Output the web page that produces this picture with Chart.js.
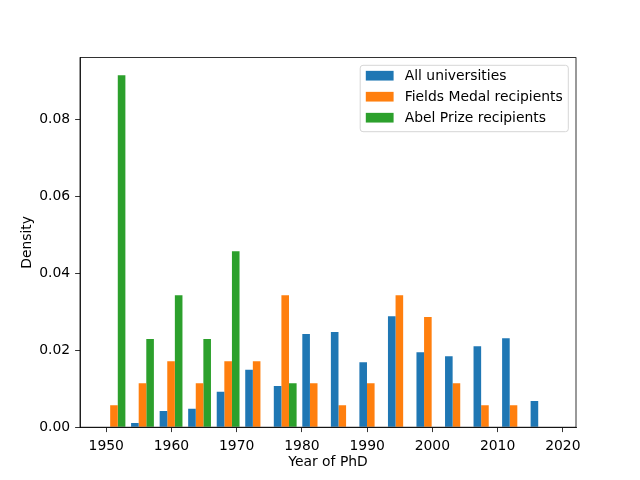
<!DOCTYPE html>
<html>
<head>
<meta charset="utf-8">
<script src="https://cdn.jsdelivr.net/npm/chart.js@4/dist/chart.umd.min.js"></script>
<style>
  html, body { margin: 0; padding: 0; background: #fff; }
  canvas { display: block; }
</style>
</head>
<body>
<canvas id="phd" width="640" height="480"></canvas>
<script>
// bin centres of the 16 histogram bins (years)
const binCenters = [1951.19, 1955.56, 1959.94, 1964.31, 1968.69, 1973.06, 1977.44, 1981.81,
                    1986.19, 1990.56, 1994.94, 1999.31, 2003.69, 2008.06, 2012.44, 2016.81];

const allUniversities = [0, 0.0011, 0.0042, 0.0048, 0.0092, 0.0149, 0.0107, 0.0242,
                         0.0247, 0.0169, 0.0288, 0.0195, 0.0184, 0.0210, 0.0231, 0.0068];
const fieldsMedal = [0.0057, 0.0114, 0.0171, 0.0114, 0.0171, 0.0171, 0.0343, 0.0114,
                     0.0057, 0.0114, 0.0343, 0.0286, 0.0114, 0.0057, 0.0057, 0];
const abelPrize = [0.0914, 0.0229, 0.0343, 0.0229, 0.0457, 0, 0.0114, 0,
                   0, 0, 0, 0, 0, 0, 0, 0];

const seriesNames = ['All universities', 'Fields Medal recipients', 'Abel Prize recipients'];
const xTicks = [1950, 1960, 1970, 1980, 1990, 2000, 2010, 2020];
const yTicks = [0, 0.02, 0.04, 0.06, 0.08];

const FONT = 'DejaVu Sans';
const FS = 13.9;
Chart.defaults.color = '#000';
Chart.defaults.font.family = FONT;
Chart.defaults.font.size = FS;

// frame + legend box like matplotlib
const framePlugin = {
    id: 'framePlugin',
    afterDraw(chart) {
        const { ctx, chartArea: a } = chart;
        ctx.save();
        ctx.strokeStyle = '#000';
        ctx.lineWidth = 0.8;
        ctx.strokeRect(a.left, a.top, a.right - a.left, a.bottom - a.top);

        // legend
        ctx.font = FS + 'px ' + FONT;
        let textW = 0;
        chart.data.datasets.forEach(d => { textW = Math.max(textW, ctx.measureText(d.label).width); });
        const pad = 5.6, handleW = 27.8, handleH = 9.7, gap = 11.1, rowH = 21;
        const boxW = pad + handleW + gap + textW + pad;
        const boxH = 66.4;
        const x0 = a.right - 7.7 - boxW;
        const y0 = a.top + 7.7;
        ctx.beginPath();
        ctx.roundRect(x0, y0, boxW, boxH, 2.8);
        ctx.fillStyle = 'rgba(255,255,255,0.8)';
        ctx.fill();
        ctx.strokeStyle = '#d6d6d6';
        ctx.lineWidth = 1;
        ctx.stroke();
        chart.data.datasets.forEach((d, i) => {
            const cy = y0 + 10.4 + i * rowH;
            ctx.fillStyle = d.backgroundColor;
            ctx.fillRect(x0 + pad, cy - handleH / 2, handleW, handleH);
            ctx.fillStyle = '#000';
            ctx.textBaseline = 'middle';
            ctx.textAlign = 'left';
            ctx.fillText(d.label, x0 + pad + handleW + gap, cy + 1);
        });
        ctx.restore();
    }
};

new Chart(document.getElementById('phd'), {
    type: 'bar',
    data: {
        labels: binCenters,
        datasets: [
            { label: seriesNames[0], data: allUniversities, backgroundColor: '#1f77b4' },
            { label: seriesNames[1], data: fieldsMedal, backgroundColor: '#ff7f0e' },
            { label: seriesNames[2], data: abelPrize, backgroundColor: '#2ca02c' }
        ]
    },
    options: {
        responsive: false,
        animation: false,
        events: [],
        layout: { padding: { top: 57.6, right: 64, left: 0, bottom: 0 } },
        datasets: {
            bar: { categoryPercentage: 0.8, barPercentage: 1.0, borderWidth: 0 }
        },
        plugins: {
            legend: { display: false },
            tooltip: { enabled: false }
        },
        scales: {
            x: {
                type: 'linear',
                offset: false,
                min: 1945.98,
                max: 2022.02,
                afterBuildTicks: s => { s.ticks = xTicks.map(v => ({ value: v })); },
                afterFit: s => { s.height = 52.8; },
                ticks: { autoSkip: false, maxRotation: 0, padding: 5.5, callback: v => String(v) },
                grid: { offset: false, drawOnChartArea: false, tickLength: 4.9, tickColor: '#000', tickWidth: 0.8 },
                border: { color: '#000', width: 0.8 },
                title: { display: true, text: 'Year of PhD', padding: { top: 0, bottom: 9.5 } }
            },
            y: {
                min: 0,
                max: 0.096,
                afterBuildTicks: s => { s.ticks = yTicks.map(v => ({ value: v })); },
                afterFit: s => { s.width = 80; },
                ticks: { padding: 4.9, callback: v => v.toFixed(2) },
                grid: { drawOnChartArea: false, tickLength: 4.9, tickColor: '#000', tickWidth: 0.8 },
                border: { color: '#000', width: 0.8 },
                title: { display: true, text: 'Density', padding: { top: 19, bottom: 0 } }
            }
        }
    },
    plugins: [framePlugin]
});
</script>
</body>
</html>
